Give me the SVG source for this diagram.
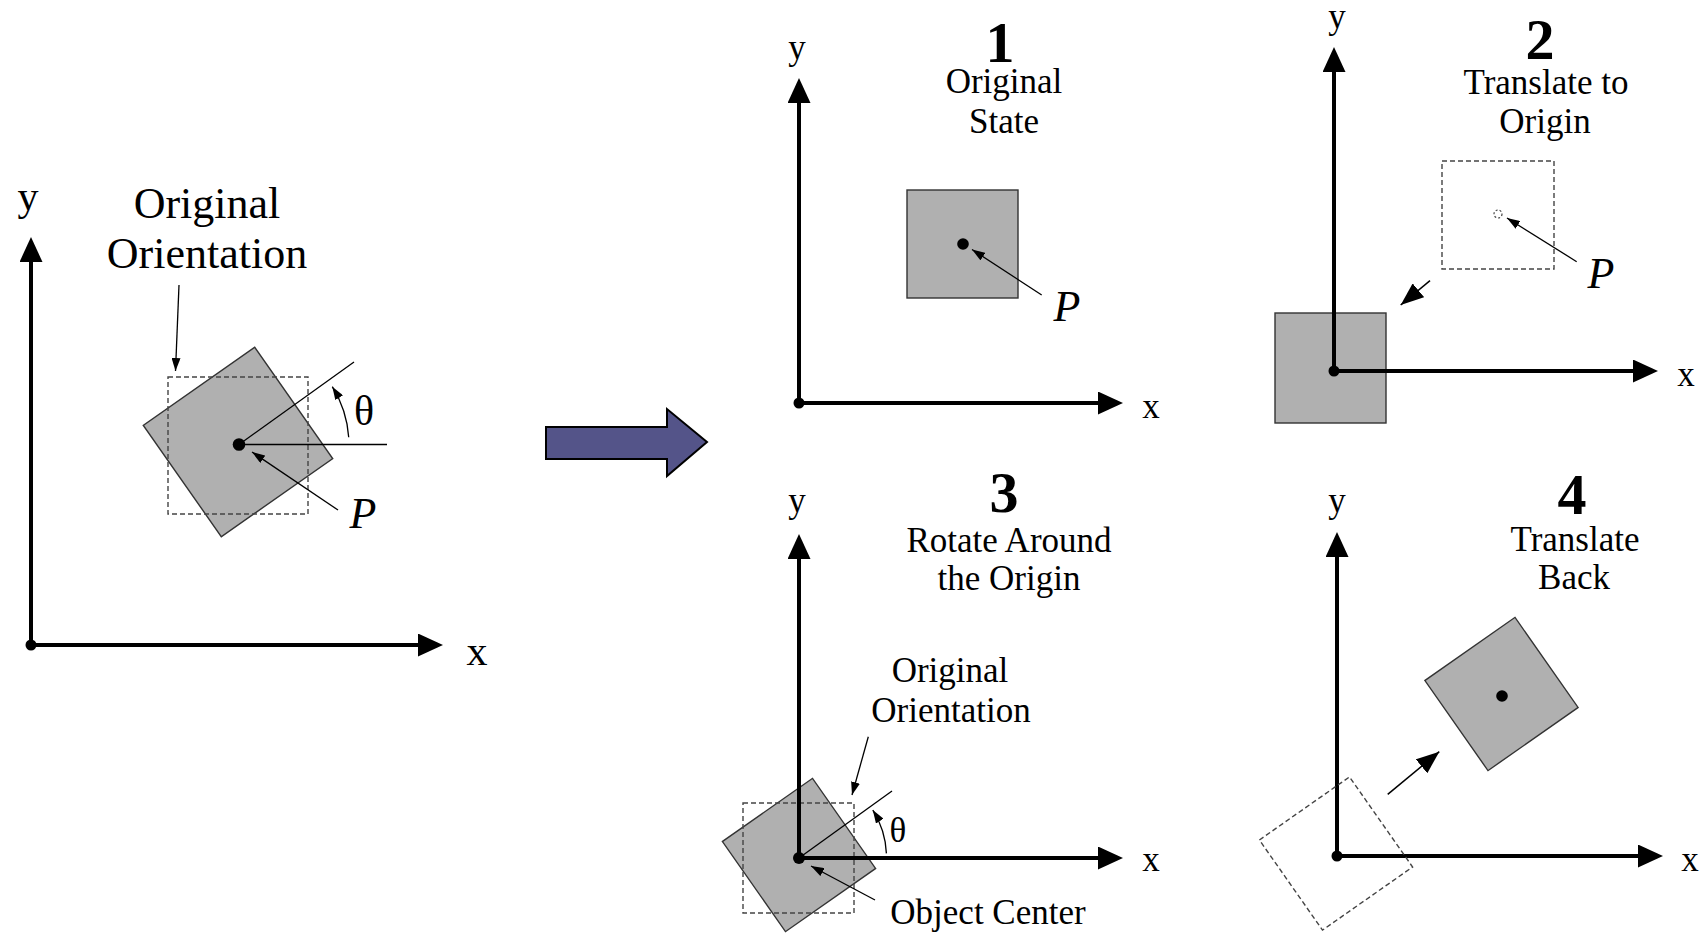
<svg xmlns="http://www.w3.org/2000/svg" width="1707" height="934" viewBox="0 0 1707 934">
<style>
.ax{stroke:#000;stroke-width:4;fill:none;marker-end:url(#axh)}
.dot{fill:#000}
.obj{fill:#B0B0B0;stroke:#333;stroke-width:1.4}
.dash{fill:none;stroke:#444;stroke-width:1.4;stroke-dasharray:5 3}
.thin{stroke:#000;stroke-width:1.3;fill:none}
.ptr{stroke:#000;stroke-width:1.3;fill:none;marker-end:url(#ph)}
.big{stroke:#000;stroke-width:1.5;fill:none;marker-end:url(#bh)}
text{font-family:"Liberation Serif","Times New Roman",serif;fill:#000}
.lbl{font-size:35px;text-anchor:middle}
.lblL{font-size:44px;text-anchor:middle}
.axl{font-size:35px;text-anchor:middle}
.axlL{font-size:42px;text-anchor:middle}
.num{font-size:58px;font-weight:bold;text-anchor:middle}
.p{font-size:44px;font-style:italic;text-anchor:middle}
</style>
<defs>
<marker id="axh" markerUnits="userSpaceOnUse" viewBox="0 0 25 23" markerWidth="25" markerHeight="23" refX="20" refY="11.5" orient="auto"><path d="M0,0 L25,11.5 L0,23 z" fill="#000"/></marker>
<marker id="ph" markerUnits="userSpaceOnUse" viewBox="0 0 13 9" markerWidth="13" markerHeight="9" refX="13" refY="4.5" orient="auto"><path d="M0,0 L13,4.5 L0,9 z" fill="#000"/></marker>
<marker id="bh" markerUnits="userSpaceOnUse" viewBox="0 0 23 18" markerWidth="23" markerHeight="18" refX="23" refY="9" orient="auto"><path d="M0,0 L23,9 L0,18 z" fill="#000"/></marker>
</defs>
<rect width="1707" height="934" fill="#fff"/>

<g id="panel-left">
<rect class="obj" x="-68" y="-68" width="136" height="136" transform="translate(238,442) rotate(-35)"/>
<rect class="dash" x="168" y="377" width="140" height="137"/>
<line class="thin" x1="239" y1="444.5" x2="387" y2="444.5"/>
<line class="thin" x1="239" y1="444.5" x2="354" y2="362"/>
<path class="ptr" d="M348.7,437.3 A110,110 0 0 0 332.3,386.7"/>
<circle class="dot" cx="239" cy="444.5" r="6.3"/>
<line class="ax" x1="31" y1="645" x2="31" y2="242"/>
<line class="ax" x1="31" y1="645" x2="438" y2="645"/>
<circle class="dot" cx="31" cy="645" r="5.5"/>
<text class="axlL" x="28" y="210">y</text>
<text class="axlL" x="477" y="665">x</text>
<text class="lblL" x="207" y="218">Original</text>
<text class="lblL" x="207" y="268">Orientation</text>
<text class="axlL" x="364" y="425">θ</text>
<text class="p" x="363" y="528">P</text>
</g>

<g id="panel-1">
<rect class="obj" x="907" y="190" width="111" height="108"/>
<circle class="dot" cx="963" cy="244" r="5.8"/>
<line class="ax" x1="799" y1="403" x2="799" y2="83"/>
<line class="ax" x1="799" y1="403" x2="1118" y2="403"/>
<circle class="dot" cx="799" cy="403" r="5.5"/>
<text class="axl" x="797" y="59">y</text>
<text class="axl" x="1151" y="418">x</text>
<text class="num" x="1000" y="62">1</text>
<text class="lbl" x="1004" y="93">Original</text>
<text class="lbl" x="1004" y="133">State</text>
<text class="p" x="1067" y="321">P</text>
</g>

<g id="panel-2">
<rect class="obj" x="1275" y="313" width="111" height="110"/>
<rect class="dash" x="1442" y="161" width="112" height="108"/>
<circle cx="1498" cy="214" r="4" fill="none" stroke="#444" stroke-width="1.2" stroke-dasharray="2 2"/>
<line class="ax" x1="1334" y1="371" x2="1334" y2="52"/>
<line class="ax" x1="1334" y1="371" x2="1653" y2="371"/>
<circle class="dot" cx="1334" cy="371" r="5.5"/>
<text class="axl" x="1337" y="28">y</text>
<text class="axl" x="1686" y="386">x</text>
<text class="num" x="1540" y="59">2</text>
<text class="lbl" x="1546" y="94">Translate to</text>
<text class="lbl" x="1545" y="133">Origin</text>
<text class="p" x="1601" y="288">P</text>
</g>

<g id="panel-3">
<rect class="obj" x="-55" y="-55" width="110" height="110" transform="translate(799,855) rotate(-35)"/>
<rect class="dash" x="743" y="803" width="111" height="110"/>
<line class="thin" x1="799" y1="858" x2="892" y2="791"/>
<path class="ptr" d="M886.4,853.4 A88,88 0 0 0 872.8,810.1"/>
<line class="ax" x1="799" y1="858" x2="799" y2="539"/>
<line class="ax" x1="799" y1="858" x2="1118" y2="858"/>
<circle class="dot" cx="799" cy="858" r="6"/>
<text class="axl" x="797" y="512">y</text>
<text class="axl" x="1151" y="871">x</text>
<text class="num" x="1004" y="512">3</text>
<text class="lbl" x="1009" y="552">Rotate Around</text>
<text class="lbl" x="1009" y="590">the Origin</text>
<text class="lbl" x="950" y="682">Original</text>
<text class="lbl" x="951" y="722">Orientation</text>
<text class="lbl" x="898" y="842">θ</text>
<text class="lbl" x="988" y="924">Object Center</text>
</g>

<g id="panel-4">
<rect class="obj" x="-55" y="-55" width="110" height="110" transform="translate(1501.5,694) rotate(-35)"/>
<circle class="dot" cx="1502" cy="696" r="5.8"/>
<line class="ax" x1="1337" y1="856" x2="1337" y2="537"/>
<line class="ax" x1="1337" y1="856" x2="1658" y2="856"/>
<rect class="dash" x="-55" y="-55" width="110" height="110" transform="translate(1336,853.5) rotate(-35)"/>
<circle class="dot" cx="1337" cy="856" r="5.5"/>
<text class="axl" x="1337" y="512">y</text>
<text class="axl" x="1690" y="871">x</text>
<text class="num" x="1572" y="514">4</text>
<text class="lbl" x="1575" y="551">Translate</text>
<text class="lbl" x="1574" y="589">Back</text>
</g>

<g id="blue-arrow">
<polygon points="546,427 667,427 667,409 707,442 667,476 667,459 546,459" fill="#545489" stroke="#000" stroke-width="2"/>
</g>

<g id="connectors">
<line class="ptr" x1="179" y1="285" x2="175.5" y2="371"/>
<line class="ptr" x1="338" y1="510" x2="252" y2="452"/>
<line class="ptr" x1="1041.7" y1="295" x2="972" y2="249.5"/>
<line class="ptr" x1="1576.7" y1="261.7" x2="1507" y2="218"/>
<line class="big" x1="1430" y1="280.7" x2="1400.7" y2="305"/>
<line class="ptr" x1="868.3" y1="736.7" x2="852" y2="795"/>
<line class="ptr" x1="875" y1="900" x2="811" y2="866"/>
<line class="big" x1="1387.7" y1="794.3" x2="1439.3" y2="751.7"/>
</g>
</svg>
